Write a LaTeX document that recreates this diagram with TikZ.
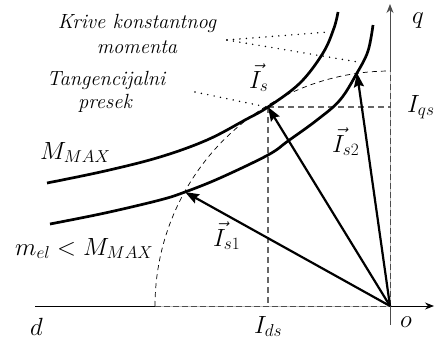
\documentclass[tikz,border=0pt]{standalone}
\usetikzlibrary{arrows.meta}
\begin{document}
\begin{tikzpicture}[x=1pt,y=-1pt,
  curve/.style={line width=2.7pt},
  vec/.style={line width=2.2pt,-{Stealth[length=14pt,width=10pt,inset=2pt]}},
  proj/.style={draw=black!60,line width=1.3pt,dash pattern=on 6pt off 4pt},
  circ/.style={line width=0.7pt,dash pattern=on 5pt off 4pt},
  dots/.style={line width=1.6pt,line cap=round,dash pattern=on 0pt off 6.5pt},
  axisk/.style={line width=0.9pt},
  txt/.style={font=\fontsize{20.5}{24}\selectfont\itshape,inner sep=0pt},
  lbl/.style={font=\fontsize{23.5}{26}\selectfont,inner sep=0pt}]
\useasboundingbox (0,0) rectangle (435,343);
% key points
\coordinate (O) at (390,306);
\coordinate (dL) at (35,306);
\coordinate (dR) at (434,306);
\coordinate (cD) at (155,306);
\coordinate (cQ) at (390,71);
\coordinate (qT) at (390,4);
\coordinate (qB) at (390,325);
\coordinate (Is) at (268,107);
\coordinate (Is1) at (185,192);
\coordinate (Is2) at (357,73);
% axes
\draw[axisk] (dL) -- (cD);
\draw[black!25,line width=0.9pt] (cD) -- (O);
\draw[black!70,line width=0.9pt,dash pattern=on 6pt off 3pt] (cD) -- (O);
\draw[axisk,-{Stealth[length=9pt,width=7pt]}] (O) -- (dR);
\draw[black!25,line width=0.9pt] (O) -- (cQ);
\draw[black!70,line width=0.9pt,dash pattern=on 6pt off 3pt] (O) -- (cQ);
\draw[black!70,line width=0.9pt,-{Stealth[length=9pt,width=7pt]}] (cQ) -- (qT);
\draw[black!70,line width=0.9pt] (O) -- (qB);
% dashed circle
\draw[circ] plot[domain=180:90,samples=80] ({390+235*cos(\x)},{306-235*sin(\x)});
% projections
\draw[proj] (Is) -- (Is |- O);
\draw[proj] (Is) -- (Is -| O);
% constant torque curves
\draw[curve] plot[smooth,tension=0.6] coordinates {(47,183) (105,171) (160,157) (207,140) (245,120) (268,107) (300,83) (323,53) (334,28) (338,12)};
\draw[curve] plot[smooth,tension=0.6] coordinates {(50,224) (105,213) (160,200) (185,192) (220,178) (268,155) (288,141) (317,120) (340,100) (357,73) (368,51) (373,25)};
% dotted pointers
\coordinate (kA) at (227,40);
\coordinate (kB) at (328,32);
\coordinate (kC) at (358,62);
\coordinate (tA) at (195,92);
\coordinate (tB) at (262,106);
\draw[dots] (kA) -- (kB);
\draw[dots] (kA) -- (kC);
\draw[dots] (tA) -- (tB);
% vectors
\draw[vec] (O) -- (Is1);
\draw[vec] (O) -- (Is);
\draw[vec] (O) -- (Is2);
% texts
\node[txt,anchor=base] (t1) at (137,28) {Krive konstantnog};
\node[txt,anchor=base] (t2) at (137,53) {momenta};
\node[txt,anchor=base] (t3) at (106,85) {Tangencijalni};
\node[txt,anchor=base] (t4) at (105,108) {presek};
\node[lbl,anchor=base west] (mmax) at (40,159) {$M_{MAX}$};
\node[lbl,anchor=base west] (mel) at (15,255) {$m_{el} < M_{MAX}$};
\node[lbl,anchor=base west] (d) at (30,335) {$d$};
\node[lbl,anchor=base west] (o) at (400,327) {$o$};
\node[lbl,anchor=base west] (q) at (412,23) {$q$};
\node[lbl,anchor=base west] (iqs) at (407,112) {$I_{qs}$};
\node[lbl,anchor=base west] (ids) at (254,333) {$I_{ds}$};
\node[lbl,anchor=base west] (ls) at (249,88) {$\vec{I}_{s}$};
\node[lbl,anchor=base west] (ls2) at (332,152) {$\vec{I}_{s2}$};
\node[lbl,anchor=base west] (ls1) at (213,246) {$\vec{I}_{s1}$};
\end{tikzpicture}
\end{document}
